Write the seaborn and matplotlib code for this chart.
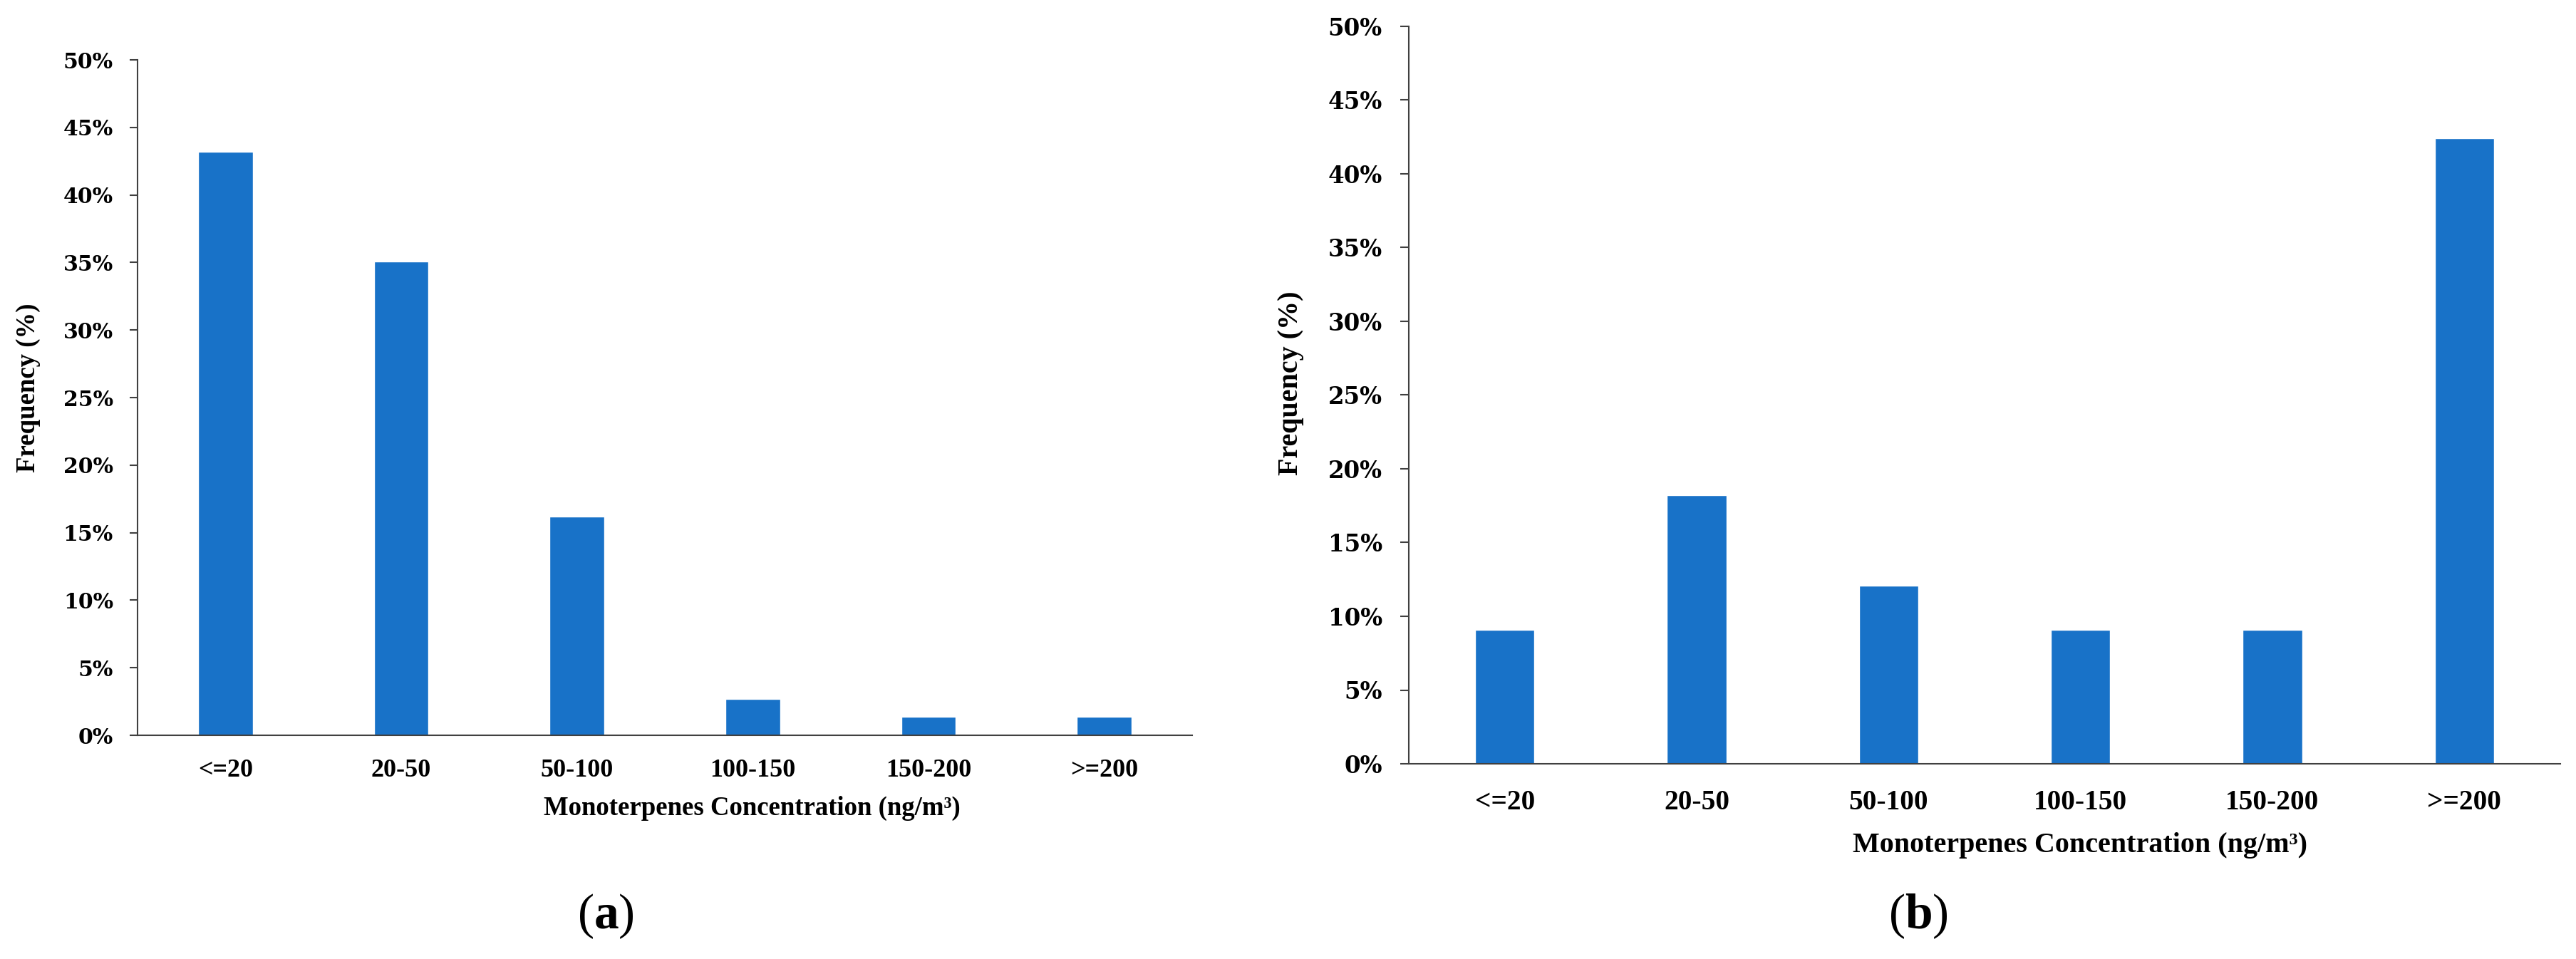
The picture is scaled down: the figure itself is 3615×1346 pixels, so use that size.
import numpy as np
import pandas as pd
import matplotlib
matplotlib.use("Agg")
import matplotlib.pyplot as plt
from matplotlib.ticker import PercentFormatter, MultipleLocator
import seaborn as sns

sns.set_style("white")
plt.rcParams["font.family"] = ["Liberation Serif", "DejaVu Serif"]
plt.rcParams["mathtext.fontset"] = "custom"
plt.rcParams["mathtext.rm"] = "Liberation Serif"
plt.rcParams["mathtext.bf"] = "Liberation Serif:bold"
plt.rcParams["text.color"] = "black"
plt.rcParams["axes.labelcolor"] = "black"
plt.rcParams["xtick.labelcolor"] = "black"
plt.rcParams["ytick.labelcolor"] = "black"

# Data (percent of samples in each concentration class)
categories = ["<=20", "20-50", "50-100", "100-150", "150-200", ">=200"]
freq_a = [43.2, 35.1, 16.2, 2.7, 1.35, 1.35]
freq_b = [9.1, 18.2, 12.1, 9.1, 9.1, 42.4]

bar_color = "#1872C8"
axis_color = "#404040"
xlabel_text = "Monoterpenes Concentration (ng/m\u00b3)"

W, H = 3616, 1346
fig = plt.figure(figsize=(W / 100, H / 100), dpi=100)


def px_axes(x0, x1, ytop, ybot):
    return fig.add_axes([x0 / W, 1 - ybot / H, (x1 - x0) / W, (ybot - ytop) / H])


def draw_panel(ax, values, s, lab_y, ylab_x, ylab_y):
    df = pd.DataFrame({"cat": categories, "freq": values})
    sns.barplot(data=df, x="cat", y="freq", color=bar_color, saturation=1,
                width=0.31, ax=ax)
    ax.set_ylim(0, 50)
    ax.yaxis.set_major_locator(MultipleLocator(5))
    ax.yaxis.set_major_formatter(PercentFormatter(xmax=100, decimals=0))
    sns.despine(ax=ax)
    for side in ["left", "bottom"]:
        ax.spines[side].set_color(axis_color)
        ax.spines[side].set_linewidth(1.5)
    ax.tick_params(axis="y", direction="out", length=8 * s, width=1.5,
                   color=axis_color, pad=16.5 * s, left=True)
    ax.tick_params(axis="x", length=0, pad=24 * s)
    for t in ax.get_yticklabels():
        t.set_fontfamily("DejaVu Serif")
        t.set_fontweight("bold")
        t.set_fontsize(21.5 * s)
        t.set_color("black")
    for t in ax.get_xticklabels():
        t.set_fontweight("bold")
        t.set_fontsize(26 * s)
        t.set_color("black")
    ax.set_xlabel(xlabel_text, fontsize=26.5 * s, fontweight="bold", color="black")
    ax.xaxis.label.set_va("center")
    ax.xaxis.set_label_coords(0.583, lab_y)
    ax.set_ylabel("Frequency (%)", fontsize=26.5 * s, fontweight="bold", color="black")
    ax.yaxis.label.set_va("center")
    ax.yaxis.set_label_coords(ylab_x, ylab_y)


ax_a = px_axes(193, 1673, 84, 1032)
draw_panel(ax_a, freq_a, 1.0, -0.1076, -0.104, 0.514)

ax_b = px_axes(1977, 3593, 37, 1072)
draw_panel(ax_b, freq_b, 1.09, -0.111, -0.1027, 0.516)

fig.text(850 / W, 1 - 1286 / H, r"($\mathbf{a}$)", fontsize=50,
         ha="center", va="center", color="black")
fig.text(2692 / W, 1 - 1286 / H, r"($\mathbf{b}$)", fontsize=50,
         ha="center", va="center", color="black")

fig.savefig("out.png", dpi=100, facecolor="white")
